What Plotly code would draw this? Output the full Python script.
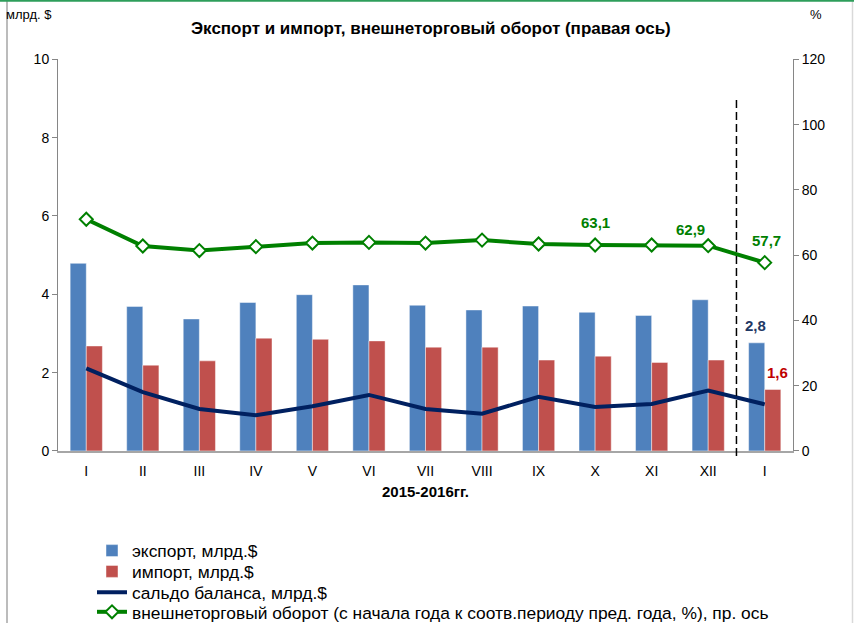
import plotly.graph_objects as go

months = ["I", "II", "III", "IV", "V", "VI", "VII", "VIII", "IX", "X", "XI", "XII", "I"]
export_vals = [4.79, 3.69, 3.37, 3.79, 3.99, 4.24, 3.72, 3.60, 3.70, 3.54, 3.46, 3.86, 2.76]
import_vals = [2.68, 2.19, 2.30, 2.88, 2.85, 2.81, 2.65, 2.65, 2.32, 2.42, 2.26, 2.32, 1.57]
saldo_vals = [2.11, 1.50, 1.07, 0.91, 1.14, 1.43, 1.07, 0.95, 1.38, 1.12, 1.20, 1.54, 1.19]
turnover_vals = [71.0, 62.8, 61.4, 62.6, 63.7, 63.9, 63.7, 64.6, 63.4, 63.1, 63.1, 62.9, 57.7]

xs = list(range(len(months)))

BLUE = "#4F81BD"
RED = "#C0504D"
NAVY = "#002060"
GREEN = "#008000"
FONT = "Liberation Sans, Arial, sans-serif"
W, H = 854, 630


def px(x):
    return x / W


def py(y):
    return 1 - y / H


fig = go.Figure()
fig.add_trace(go.Bar(x=xs, y=export_vals, name="экспорт, млрд.$", legend="legend",
                     marker=dict(color=BLUE, line=dict(color="rgba(255,255,255,0.45)", width=1))))
fig.add_trace(go.Bar(x=xs, y=import_vals, name="импорт, млрд.$", legend="legend2",
                     marker=dict(color=RED, line=dict(color="rgba(255,255,255,0.45)", width=1))))
fig.add_trace(go.Scatter(x=xs, y=saldo_vals, name="сальдо баланса, млрд.$", mode="lines",
                         legend="legend3", line=dict(color=NAVY, width=4)))
fig.add_trace(go.Scatter(x=xs, y=turnover_vals, yaxis="y2", mode="lines+markers", legend="legend4",
                         name="внешнеторговый оборот (с начала года к соотв.периоду пред. года, %), пр. ось",
                         line=dict(color=GREEN, width=4),
                         marker=dict(symbol="diamond", size=10, color="white",
                                     line=dict(color=GREEN, width=2))))

annotations = [
    dict(x=9, y=turnover_vals[9], yref="y2", text="<b>63,1</b>", showarrow=False,
         yshift=23, font=dict(color=GREEN, size=15, family=FONT)),
    dict(x=11, y=turnover_vals[11], yref="y2", text="<b>62,9</b>", showarrow=False,
         xshift=-18, yshift=16, font=dict(color=GREEN, size=15, family=FONT)),
    dict(x=12, y=turnover_vals[12], yref="y2", text="<b>57,7</b>", showarrow=False,
         xshift=2, yshift=22, font=dict(color=GREEN, size=15, family=FONT)),
    dict(x=12, y=export_vals[12], yref="y", text="<b>2,8</b>", showarrow=False,
         xshift=-9, yshift=17, font=dict(color="#1F3864", size=15, family=FONT)),
    dict(x=12, y=import_vals[12], yref="y", text="<b>1,6</b>", showarrow=False,
         xshift=13, yshift=17, font=dict(color="#C00000", size=15, family=FONT)),
    dict(xref="paper", yref="paper", x=px(4), y=py(15), text="млрд. $", showarrow=False,
         xanchor="left", yanchor="middle", font=dict(size=13, color="#000", family=FONT)),
    dict(xref="paper", yref="paper", x=px(816), y=py(15), text="%", showarrow=False,
         xanchor="center", yanchor="middle", font=dict(size=13, color="#000", family=FONT)),
    dict(xref="paper", yref="paper", x=px(431), y=py(29),
         text="<b>Экспорт и импорт, внешнеторговый оборот (правая ось)</b>", showarrow=False,
         xanchor="center", yanchor="middle", font=dict(size=17, color="#000", family=FONT)),
    dict(xref="paper", yref="paper", x=px(425), y=py(497), text="<b>2015-2016гг.</b>",
         showarrow=False, xanchor="center", yanchor="middle",
         font=dict(size=15, color="#000", family=FONT)),
]

shapes = [
    dict(type="line", xref="x", yref="paper", x0=11.5, x1=11.5, y0=py(461), y1=py(100),
         line=dict(color="black", width=1.5, dash="8px,4px")),
    dict(type="line", xref="paper", yref="paper", x0=px(7), x1=px(7), y0=0, y1=py(1),
         line=dict(color="#A6A6A6", width=1.5)),
    dict(type="line", xref="paper", yref="paper", x0=px(852.5), x1=px(852.5), y0=0, y1=py(1),
         line=dict(color="#D9D9D9", width=1.5)),
    dict(type="line", xref="paper", yref="paper", x0=0, x1=1, y0=py(0.8), y1=py(0.8),
         line=dict(color="#2E9E5B", width=2)),
]

legend_common = dict(xanchor="left", yanchor="middle", orientation="v",
                     font=dict(size=17.4, family=FONT, color="#000"),
                     bgcolor="rgba(0,0,0,0)", borderwidth=0, itemwidth=30)
LX = px(92)

fig.update_layout(
    width=W, height=H,
    margin=dict(l=0, r=0, t=0, b=0),
    paper_bgcolor="white", plot_bgcolor="white",
    font=dict(family=FONT, size=13, color="#000"),
    barmode="group", bargap=0.43, bargroupgap=0,
    xaxis=dict(domain=[px(58), px(793)], tickmode="array", tickvals=xs, ticktext=months,
               range=[-0.5, 12.5], showline=True, linecolor="#A6A6A6", linewidth=2,
               showgrid=False, ticks="", ticklabelstandoff=6, zeroline=False,
               tickfont=dict(size=14), automargin=False),
    yaxis=dict(domain=[py(456), py(60)], range=[0, 10], dtick=2, showline=True,
               linecolor="#868686", linewidth=1, ticks="outside", ticklen=5, tickcolor="#868686",
               showgrid=False, zeroline=False, tickfont=dict(size=14), automargin=False),
    yaxis2=dict(range=[0, 120], dtick=20, overlaying="y", side="right", anchor="x",
                showline=True, linecolor="#868686", linewidth=1, ticks="outside", ticklen=5,
                tickcolor="#868686", showgrid=False, zeroline=False, tickfont=dict(size=14),
                automargin=False),
    legend=dict(x=LX, y=py(557), **legend_common),
    legend2=dict(x=LX, y=py(578), **legend_common),
    legend3=dict(x=LX, y=py(599), **legend_common),
    legend4=dict(x=LX, y=py(619), **legend_common),
    showlegend=True,
    annotations=annotations,
    shapes=shapes,
)

fig.write_html("out.html", post_script="document.body.style.margin='0';",
               config={"displayModeBar": False})
